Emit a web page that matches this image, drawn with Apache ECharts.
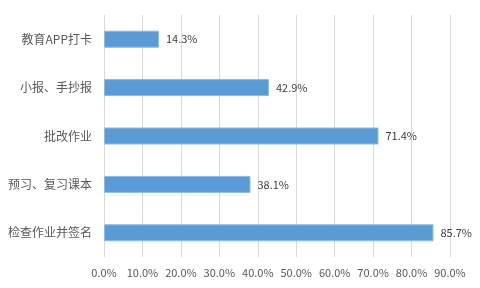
<!DOCTYPE html>
<html><head><meta charset="utf-8">
<script src="https://cdn.jsdelivr.net/npm/echarts@6/dist/echarts.min.js"></script>
<style>html,body{margin:0;padding:0;background:#fff}#c{width:480px;height:288px}</style>
</head><body><div id="c"></div>
<script>
const categories = ['检查作业并签名', '预习、复习课本', '批改作业', '小报、手抄报', '教育APP打卡'];
const values = [85.7, 38.1, 71.4, 42.9, 14.3];
const xTicks = [0, 10, 20, 30, 40, 50, 60, 70, 80, 90];

const chart = echarts.init(document.getElementById('c'), null, {renderer: 'canvas'});
chart.setOption({
  animation: false,
  backgroundColor: '#fff',
  grid: {left: 104, right: 30, top: 15, bottom: 31, containLabel: false},
  xAxis: {
    type: 'value', min: xTicks[0], max: xTicks[xTicks.length - 1], interval: 10,
    axisLine: {show: false}, axisTick: {show: false},
    splitLine: {show: true, lineStyle: {color: '#d9d9d9', width: 1}},
    axisLabel: {formatter: v => v.toFixed(1) + '%', color: '#595959', fontSize: 11,
      fontFamily: '"Noto Sans CJK SC", "Liberation Sans", sans-serif', margin: 10}
  },
  yAxis: {
    type: 'category', data: categories,
    axisLine: {show: false}, axisTick: {show: false},
    axisLabel: {color: '#595959', fontSize: 12, margin: 12,
      fontFamily: '"Noto Sans CJK SC", sans-serif'}
  },
  series: [{
    type: 'bar', data: values, barWidth: 17,
    itemStyle: {color: '#5b9bd5', borderColor: '#8db9e3', borderWidth: 1},
    label: {show: true, position: 'right', distance: 7, formatter: p => p.value.toFixed(1) + '%',
      color: '#404040', fontSize: 11, fontFamily: '"Noto Sans CJK SC", "Liberation Sans", sans-serif'}
  }]
});
</script></body></html>
